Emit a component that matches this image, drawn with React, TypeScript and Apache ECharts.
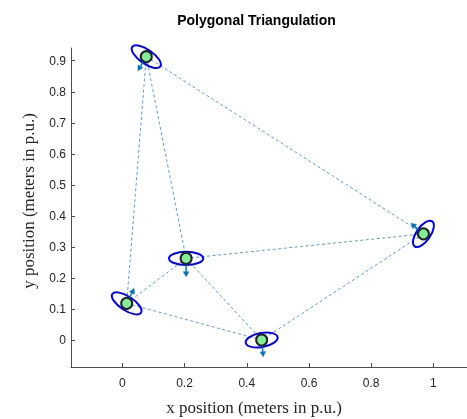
import React, { useEffect, useRef } from "react";
import * as echarts from "echarts";

// node positions (x, y) in p.u.
const nodeX = [0.077, 0.968, 0.205, 0.014, 0.448];
const nodeY = [0.913, 0.342, 0.263, 0.118, 0.0];
// triangulation edges (node index pairs)
const edges: [number, number][] = [
  [0, 1], [0, 2], [0, 3], [1, 2], [1, 4], [2, 3], [2, 4], [3, 4],
];
// uncertainty ellipses: semi-major, semi-minor (p.u.), orientation (deg)
const ellA = [0.055, 0.049, 0.055, 0.055, 0.052];
const ellB = [0.0225, 0.0225, 0.021, 0.0225, 0.0225];
const ellAng = [-35, 55, 0, -33, 10];
// quiver vectors (dx, dy) in p.u.
const arrDX = [-0.027, -0.04, 0.0, 0.024, 0.005];
const arrDY = [-0.045, 0.034, -0.059, 0.048, -0.054];
// ticks
const xTicks = [0, 0.2, 0.4, 0.6, 0.8, 1];
const yTicks = [0, 0.1, 0.2, 0.3, 0.4, 0.5, 0.6, 0.7, 0.8, 0.9];

export default function App() {
  const ref = useRef<HTMLDivElement>(null);
  useEffect(() => {
    if (!ref.current) return;
    const chart = echarts.init(ref.current, undefined, { renderer: "svg" });
    const fmt = (v: number) => String(Math.round(v * 10) / 10);
    const axisCommon = {
      type: "value",
      splitLine: { show: false },
      axisLine: { show: true, onZero: false, lineStyle: { color: "#4d4d4d", width: 1 } },
      axisTick: { show: true, inside: true, length: 4, lineStyle: { color: "#4d4d4d" } },
    };
    const ellipseData = nodeX.map((x, i) => [x, nodeY[i], ellA[i], ellB[i], ellAng[i]]);
    const arrowData = nodeX.map((x, i) => [x, nodeY[i], arrDX[i], arrDY[i]]);
    chart.setOption({
      animation: false,
      grid: { left: 71, right: 0, top: 48, bottom: 52, containLabel: false },
      xAxis: {
        ...axisCommon,
        min: -0.165,
        max: 1.108,
        axisTick: { ...axisCommon.axisTick, customValues: xTicks },
        axisLabel: {
          customValues: xTicks,
          formatter: fmt,
          margin: 10,
          fontFamily: "Liberation Sans",
          fontSize: 12,
          color: "#262626",
        },
      },
      yAxis: {
        ...axisCommon,
        min: -0.087,
        max: 0.941,
        axisTick: { ...axisCommon.axisTick, customValues: yTicks },
        axisLabel: {
          customValues: yTicks,
          formatter: fmt,
          margin: 5,
          fontFamily: "Liberation Sans",
          fontSize: 12,
          color: "#262626",
        },
      },
      graphic: [
        {
          type: "text",
          x: 256.5,
          y: 20,
          style: {
            text: "Polygonal Triangulation",
            font: "bold 14px 'Liberation Sans'",
            fill: "#000",
            textAlign: "center",
            textVerticalAlign: "middle",
          },
        },
        {
          type: "text",
          x: 254,
          y: 407,
          style: {
            text: "x position (meters in p.u.)",
            font: "17px 'Liberation Serif'",
            fill: "#262626",
            textAlign: "center",
            textVerticalAlign: "middle",
          },
        },
        {
          type: "text",
          x: 28,
          y: 201,
          rotation: Math.PI / 2,
          style: {
            text: "y position (meters in p.u.)",
            font: "17px 'Liberation Serif'",
            fill: "#262626",
            textAlign: "center",
            textVerticalAlign: "middle",
          },
        },
      ],
      series: [
        {
          type: "lines",
          coordinateSystem: "cartesian2d",
          data: edges.map(([a, b]) => ({
            coords: [
              [nodeX[a], nodeY[a]],
              [nodeX[b], nodeY[b]],
            ],
          })),
          lineStyle: { color: "#5a9bd8", width: 1, type: [3, 2.5], opacity: 1 },
          silent: true,
        },
        {
          type: "custom",
          data: ellipseData,
          renderItem: (params: any, api: any) => {
            const c = api.coord([api.value(0), api.value(1)]);
            const k = api.size([1, 1])[0];
            return {
              type: "ellipse",
              x: c[0],
              y: c[1],
              rotation: (api.value(4) * Math.PI) / 180,
              shape: { cx: 0, cy: 0, rx: api.value(2) * k, ry: api.value(3) * k },
              style: { fill: "none", stroke: "#0000ff", lineWidth: 2 },
            };
          },
          silent: true,
        },
        {
          type: "custom",
          data: arrowData,
          renderItem: (params: any, api: any) => {
            const x = api.value(0), y = api.value(1);
            const s = api.coord([x, y]);
            const e = api.coord([x + api.value(2), y + api.value(3)]);
            const dx = e[0] - s[0], dy = e[1] - s[1];
            const L = Math.hypot(dx, dy) || 1;
            const ux = dx / L, uy = dy / L;
            const hl = 5, hw = 2.8;
            const bx = e[0] - ux * hl, by = e[1] - uy * hl;
            return {
              type: "group",
              children: [
                {
                  type: "line",
                  shape: { x1: s[0], y1: s[1], x2: bx, y2: by },
                  style: { stroke: "#0072bd", lineWidth: 1.5 },
                },
                {
                  type: "polygon",
                  shape: {
                    points: [
                      [e[0], e[1]],
                      [bx - uy * hw, by + ux * hw],
                      [bx + uy * hw, by - ux * hw],
                    ],
                  },
                  style: { fill: "#0072bd", stroke: "#0072bd", lineWidth: 0.5 },
                },
              ],
            };
          },
          silent: true,
        },
        {
          type: "scatter",
          data: nodeX.map((x, i) => [x, nodeY[i]]),
          symbol: "circle",
          symbolSize: 11,
          itemStyle: { color: "#83ee98", borderColor: "#222222", borderWidth: 2, opacity: 1 },
          silent: true,
        },
      ],
    });
    return () => chart.dispose();
  }, []);
  return (
    <div
      ref={ref}
      style={{ position: "fixed", left: 0, top: 0, width: 467, height: 419 }}
    />
  );
}
